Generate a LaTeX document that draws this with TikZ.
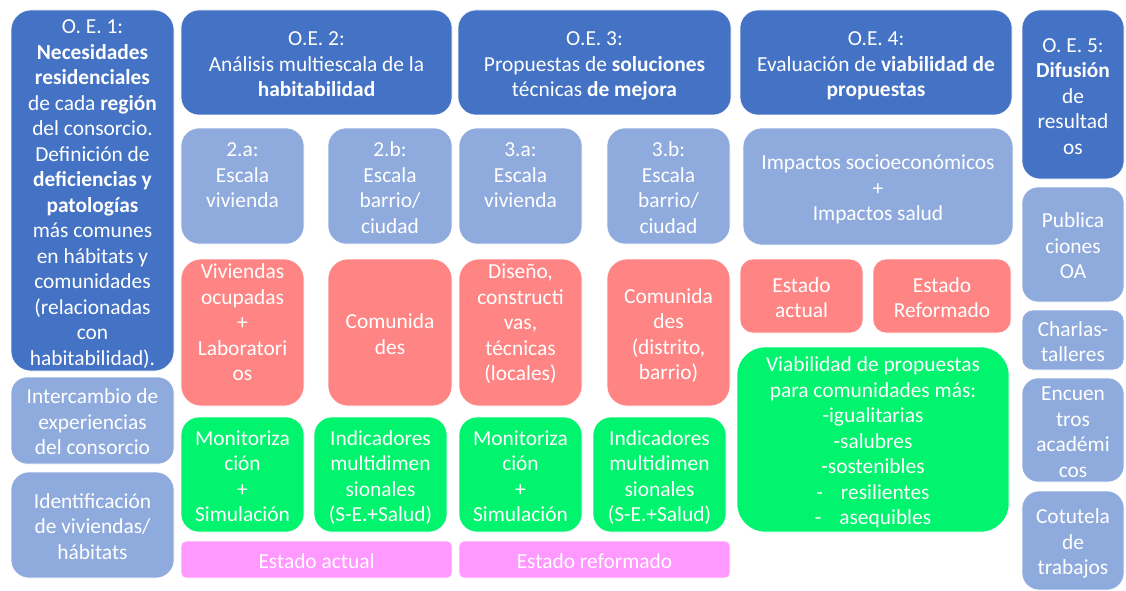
\documentclass[tikz,border=0pt]{standalone}
\usepackage{fontspec}
\setmainfont{Carlito}
\definecolor{dkb}{HTML}{4472C4}
\definecolor{ltb}{HTML}{8FAADC}
\definecolor{sal}{HTML}{FF8585}
\definecolor{grn}{HTML}{00F46E}
\definecolor{pnk}{HTML}{FF99FF}
\newcommand\lnstrut{\rule[-4pt]{0pt}{25.5pt}}
\newcommand\bx[8]{\node[#2, rounded corners=#3, minimum width={#6-#4}, minimum height={#7-#5}] (#1) at ({(#4+#6)/2},{(#5+#7)/2}) {\lnstrut#8\lnstrut};}
\begin{document}
\begin{tikzpicture}[x=1pt,y=-1pt,
  box/.style={draw=white, line width=0.6pt, text=white, align=center, inner sep=0pt,
    font=\fontsize{21.4}{25.5}\selectfont},
  dark/.style={box, fill=dkb},
  light/.style={box, fill=ltb},
  redbox/.style={box, fill=sal},
  greenbox/.style={box, fill=grn},
  pinkbox/.style={box, fill=pnk}]
\useasboundingbox (0,0) rectangle (1126,591);
% column 1
\bx{oe1}{dark}{20}{11}{10}{174}{371}{O. E. 1:\\\textbf{Necesidades}\\\textbf{residenciales}\\de cada \textbf{región}\\del consorcio.\\Definición de\\\textbf{deficiencias y}\\\textbf{patologías}\\más comunes\\en hábitats y\\comunidades\\(relacionadas\\con\\habitabilidad).}
\bx{inter}{light}{16}{11}{377}{174}{464}{Intercambio de\\experiencias\\del consorcio}
\bx{ident}{light}{18}{11}{472}{174}{578}{Identificación\\de viviendas/\\hábitats}
% headers
\bx{oe2}{dark}{18}{181}{10}{452}{115}{O.E. 2:\\Análisis multiescala de la\\\textbf{habitabilidad}}
\bx{oe3}{dark}{18}{458}{10}{731}{115}{O.E. 3:\\Propuestas de \textbf{soluciones}\\técnicas \textbf{de mejora}}
\bx{oe4}{dark}{18}{740}{10}{1012}{115}{O.E. 4:\\Evaluación de \textbf{viabilidad de}\\\textbf{propuestas}}
\bx{oe5}{dark}{18}{1022}{10}{1124}{179}{O. E. 5:\\\textbf{Difusión}\\de\\resultad\\os}
% scale row
\bx{a2}{light}{18}{181}{128}{304}{244}{2.a:\\Escala\\vivienda\\\mbox{}}
\bx{b2}{light}{18}{328}{128}{452}{244}{2.b:\\Escala\\barrio/\\ciudad}
\bx{a3}{light}{18}{459}{128}{582}{244}{3.a:\\Escala\\vivienda\\\mbox{}}
\bx{b3}{light}{18}{607}{128}{730}{244}{3.b:\\Escala\\barrio/\\ciudad}
\bx{imp}{light}{19}{743}{128}{1013}{245}{Impactos socioeconómicos\\+\\Impactos salud}
\bx{pub}{light}{16}{1022}{187}{1124}{302}{Publica\\ciones\\OA}
% red row
\bx{viv}{redbox, text height=117.5pt, text depth=21pt}{20}{181}{259}{304}{406}{Viviendas\\ocupadas\\+\\Laboratori\\os}
\bx{com}{redbox}{20}{328}{259}{452}{406}{Comunida\\des}
\bx{dis}{redbox, text height=117.5pt, text depth=21pt}{20}{459}{259}{582}{406}{Diseño,\\constructi\\vas,\\técnicas\\(locales)}
\bx{comd}{redbox}{20}{607}{259}{730}{406}{Comunida\\des\\(distrito,\\barrio)}
\bx{ea}{redbox}{13}{740}{259}{863}{333}{Estado\\actual}
\bx{er}{redbox}{13}{873}{259}{1011}{333}{Estado\\Reformado}
\bx{charlas}{light}{11}{1022}{310}{1124}{370}{Charlas-\\talleres}
% green row
\bx{mon1}{greenbox}{18}{181}{417}{304}{532}{Monitoriza\\ción\\+\\Simulación}
\bx{ind1}{greenbox}{18}{314}{417}{447}{532}{Indicadores\\multidimen\\sionales\\(S-E.+Salud)}
\bx{mon2}{greenbox}{18}{459}{417}{582}{532}{Monitoriza\\ción\\+\\Simulación}
\bx{ind2}{greenbox}{18}{593}{417}{726}{532}{Indicadores\\multidimen\\sionales\\(S-E.+Salud)}
\bx{viab}{greenbox}{28}{737}{347}{1009}{532}{Viabilidad de propuestas\\para comunidades más:\\-igualitarias\\-salubres\\-sostenibles\\-\hspace{18pt}resilientes\\-\hspace{18pt}asequibles}
\bx{enc}{light}{16}{1022}{378}{1124}{482}{Encuen\\tros\\académi\\cos}
\bx{cot}{light}{17}{1022}{491}{1124}{590}{Cotutela\\de\\trabajos}
% pink strips
\bx{pa}{pinkbox}{5}{181}{541}{452}{578}{Estado actual}
\bx{pr}{pinkbox}{5}{459}{541}{730}{578}{Estado reformado}
\end{tikzpicture}
\end{document}
